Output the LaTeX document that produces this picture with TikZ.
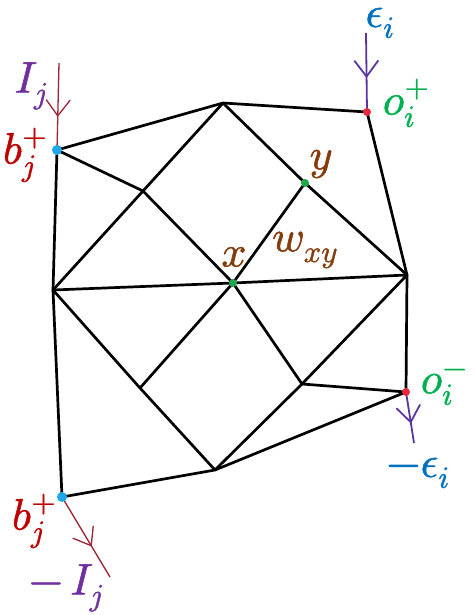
\documentclass[tikz,border=0pt]{standalone}
\usepackage{unicode-math}
\setmathfont{Latin Modern Math}[FakeBold=1.2]
\usetikzlibrary{arrows.meta,decorations.markings}
\definecolor{edgeblk}{HTML}{000000}
\definecolor{wirered}{HTML}{9B2335}
\definecolor{wirepurple}{HTML}{5B34A0}
\definecolor{labpurple}{HTML}{7030A0}
\definecolor{labred}{HTML}{C00000}
\definecolor{labblue}{HTML}{0070C0}
\definecolor{labgreen}{HTML}{00B050}
\definecolor{labbrown}{HTML}{843C0C}
\definecolor{dotcyan}{HTML}{1FA8E8}
\definecolor{dotred}{HTML}{E8283C}
\definecolor{dotgreen}{HTML}{1EA84A}
\tikzset{
  edge/.style={line width=2.7pt, edgeblk, line cap=round, line join=round},
  midarrow/.style={postaction={decorate}, decoration={markings,
      mark=at position #1 with {\arrow{Straight Barb[length=16pt,width=24pt]}}}},
  wireI/.style={line width=1.3pt, wirered},
  wireE/.style={line width=1.8pt, wirepurple},
  dot/.style={circle, inner sep=0pt, minimum size=#1},
  lab/.style={inner sep=0pt, font=\fontsize{44}{48}\selectfont},
}
\begin{document}
\begin{tikzpicture}[x=1pt,y=-1pt]
\useasboundingbox (0,0) rectangle (474,615);
% vertices
\coordinate (b1) at (57,150);
\coordinate (T) at (223,103);
\coordinate (op) at (367,112);
\coordinate (P1) at (143,191);
\coordinate (y) at (305,183);
\coordinate (L) at (53,290);
\coordinate (x) at (233,283);
\coordinate (R) at (407,275);
\coordinate (IL) at (140,388);
\coordinate (IR) at (302,384);
\coordinate (om) at (406,392);
\coordinate (B) at (215,470);
\coordinate (b2) at (62,497);
% wire ends
\coordinate (Itop) at (59,63);
\coordinate (etop) at (366,33);
\coordinate (ebot) at (414,443);
\coordinate (Ibot) at (110,577);
% edges
\draw[edge] (b1) -- (T);
\draw[edge] (T) -- (op);
\draw[edge] (op) -- (R);
\draw[edge] (b1) -- (L);
\draw[edge] (b1) -- (P1);
\draw[edge] (T) -- (P1);
\draw[edge] (P1) -- (L);
\draw[edge] (T) -- (y);
\draw[edge] (y) -- (R);
\draw[edge] (P1) -- (x);
\draw[edge] (x) -- (y);
\draw[edge] (L) -- (x);
\draw[edge] (x) -- (R);
\draw[edge] (L) -- (IL);
\draw[edge] (IL) -- (B);
\draw[edge] (x) -- (IL);
\draw[edge] (x) -- (IR);
\draw[edge] (IR) -- (B);
\draw[edge] (R) -- (IR);
\draw[edge] (IR) -- (om);
\draw[edge] (R) -- (om);
\draw[edge] (om) -- (B);
\draw[edge] (B) -- (b2);
\draw[edge] (b2) -- (L);
% wires
\draw[wireI, midarrow=0.62] (Itop) -- (b1);
\draw[wireE, midarrow=0.57] (etop) -- (op);
\draw[wireE, midarrow=0.62] (om) -- (ebot);
\draw[wireI, midarrow=0.62] (b2) -- (Ibot);
% dots
\node[dot=10pt, fill=dotcyan] (db1) at (b1) {};
\node[dot=10pt, fill=dotcyan] (db2) at (b2) {};
\node[dot=8pt, fill=dotred] (dop) at (op) {};
\node[dot=8pt, fill=dotred] (dom) at (om) {};
\node[dot=8pt, fill=dotgreen] (dx) at (x) {};
\node[dot=8pt, fill=dotgreen] (dy) at (y) {};
% labels
\node[lab, text=labpurple] (lIt) at (31,86) {$I_j$};
\node[lab, text=labred] (lb1) at (25,155) {$b_j^+$};
\node[lab, text=labblue] (let) at (380,23) {$\epsilon_i$};
\node[lab, text=labgreen] (lop) at (406,103) {$o_i^+$};
\node[lab, text=labbrown] (ly) at (321,164) {$y$};
\node[lab, text=labbrown] (lx) at (234,257) {$x$};
\node[lab, text=labbrown] (lw) at (305,250) {$w_{xy}$};
\node[lab, text=labgreen] (lom) at (444,387) {$o_i^-$};
\node[lab, text=labblue] (leb) at (418,473) {$-\epsilon_i$};
\node[lab, text=labred] (lb2) at (34,521) {$b_j^+$};
\node[lab, text=labpurple] (lIb) at (66,588) {$-\,I_j$};
\end{tikzpicture}
\end{document}
